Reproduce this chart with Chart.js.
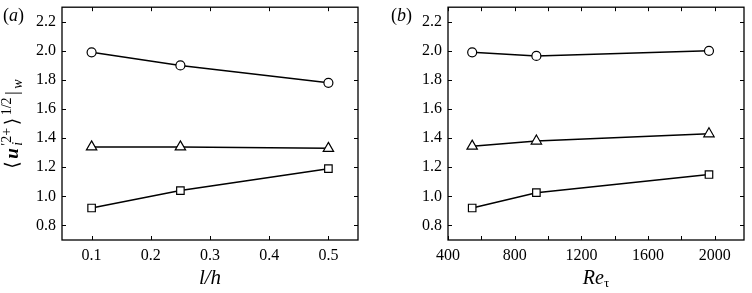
<!DOCTYPE html>
<html lang="en">
  <head>
    <meta charset="utf-8" />
    <title>Wall rms vs l/h and Re_tau</title>
    <style>
      * {
        margin: 0;
        padding: 0;
      }
      body {
        background: white;
        width: 752px;
        height: 293px;
        position: relative;
        overflow: hidden;
      }
      canvas {
        position: absolute;
        top: 0;
      }
      #chartA {
        left: 0;
      }
      #chartB {
        left: 376px;
      }
    </style>
  </head>
  <body>
    <canvas id="chartA" width="376" height="293"></canvas>
    <canvas id="chartB" width="376" height="293"></canvas>

    <script src="https://cdn.jsdelivr.net/npm/chart.js@4.4.1/dist/chart.umd.min.js"></script>

    <script>
      // panel (a): l/h
      const lh = [0.1, 0.25, 0.5];
      const aCircle = [1.99, 1.9, 1.78];
      const aTriangle = [1.34, 1.34, 1.33];
      const aSquare = [0.92, 1.04, 1.19];
      const lhTicks = [0.1, 0.2, 0.3, 0.4, 0.5];

      // panel (b): Re_tau
      const reTau = [545, 930, 1965];
      const bCircle = [1.99, 1.965, 2.0];
      const bTriangle = [1.345, 1.38, 1.43];
      const bSquare = [0.92, 1.025, 1.15];
      const reTicks = [400, 600, 800, 1000, 1200, 1400, 1600, 1800, 2000];
      const reLabels = [400, 800, 1200, 1600, 2000];

      const yTicks = [0.8, 1.0, 1.2, 1.4, 1.6, 1.8, 2.0, 2.2];

      const SERIF = "'Liberation Serif', 'DejaVu Serif', serif";

      function series(xs, ys, style, radius) {
        return {
          data: xs.map((x, i) => ({ x: x, y: ys[i] })),
          borderColor: "#000",
          borderWidth: 1.5,
          pointStyle: style,
          pointRadius: radius,
          pointHoverRadius: radius,
          pointBackgroundColor: "#fff",
          pointBorderColor: "#000",
          pointBorderWidth: 1.2,
          tension: 0,
        };
      }

      // draws text pieces (sub/superscripts) centred on (cx, cy)
      function drawRuns(ctx, runs, cx, cy, angle, align, gap) {
        gap = gap || 0;
        ctx.save();
        ctx.translate(cx, cy);
        ctx.rotate(angle || 0);
        ctx.fillStyle = "#000";
        ctx.textBaseline = "alphabetic";
        ctx.textAlign = "left";
        let total = 0;
        let last = 0;
        runs.forEach((r, i) => {
          ctx.font = r.font;
          const w = ctx.measureText(r.text).width;
          if (r.stack) {
            total = total - last + Math.max(last, w);
          } else {
            total += w + (i > 0 ? gap : 0);
          }
          last = w;
        });
        let x = align === "left" ? 0 : -total / 2;
        let prevX = x;
        let prevW = 0;
        runs.forEach((r, i) => {
          ctx.font = r.font;
          const w = ctx.measureText(r.text).width;
          if (!r.stack && i > 0) x += gap;
          const px = r.stack ? prevX : x;
          ctx.fillText(r.text, px, r.dy || 0);
          if (r.stack) {
            x = prevX + Math.max(prevW, w);
          } else {
            prevX = x;
            prevW = w;
            x += w;
          }
        });
        ctx.restore();
      }

      const frame = {
        id: "frame",
        afterDraw(chart, args, opts) {
          const { ctx, chartArea: { left, right, top, bottom }, scales: { x, y } } = chart;
          const tl = 4;
          ctx.save();
          ctx.strokeStyle = "#000";
          ctx.lineWidth = 1.3;
          ctx.strokeRect(left, top, right - left, bottom - top);
          ctx.lineWidth = 1;
          ctx.beginPath();
          x.ticks.forEach((t) => {
            const px = Math.round(x.getPixelForValue(t.value)) + 0.5;
            ctx.moveTo(px, bottom);
            ctx.lineTo(px, bottom - tl);
            ctx.moveTo(px, top);
            ctx.lineTo(px, top + tl);
          });
          y.ticks.forEach((t) => {
            const py = Math.round(y.getPixelForValue(t.value)) + 0.5;
            ctx.moveTo(left, py);
            ctx.lineTo(left + tl, py);
            ctx.moveTo(right, py);
            ctx.lineTo(right - tl, py);
          });
          ctx.stroke();
          ctx.restore();

          if (opts.xTitle) {
            drawRuns(ctx, opts.xTitle, (left + right) / 2, 284, 0);
          }
          if (opts.yTitle) {
            drawRuns(ctx, opts.yTitle, 18, 124, -Math.PI / 2, "center", 2.5);
          }
          if (opts.panel) {
            drawRuns(ctx, opts.panel.runs, opts.panel.x, 21, 0, "left");
          }
        },
      };

      function makeConfig(xs, sets, xMin, xMax, xTickVals, xLabelFn, yWidth, pad, frameOpts) {
        return {
          type: "line",
          data: {
            datasets: [
              series(xs, sets[0], "circle", 4.5),
              series(xs, sets[1], "triangle", 6),
              series(xs, sets[2], "rect", 5.3),
            ],
          },
          options: {
            responsive: false,
            animation: false,
            events: [],
            layout: { padding: pad },
            plugins: {
              legend: { display: false },
              tooltip: { enabled: false },
              frame: frameOpts,
            },
            scales: {
              x: {
                type: "linear",
                min: xMin,
                max: xMax,
                grid: { display: false, drawTicks: false },
                border: { display: false },
                afterBuildTicks(scale) {
                  scale.ticks = xTickVals.map((v) => ({ value: v }));
                },
                afterFit(scale) {
                  scale.height = 53;
                  scale.paddingLeft = 0;
                  scale.paddingRight = 0;
                },
                ticks: {
                  autoSkip: false,
                  maxRotation: 0,
                  padding: 6,
                  color: "#000",
                  font: { family: SERIF, size: 16 },
                  callback: xLabelFn,
                },
              },
              y: {
                type: "linear",
                min: 0.7,
                max: 2.3,
                grid: { display: false, drawTicks: false },
                border: { display: false },
                afterBuildTicks(scale) {
                  scale.ticks = yTicks.map((v) => ({ value: v }));
                },
                afterFit(scale) {
                  scale.width = yWidth;
                  scale.paddingTop = 0;
                  scale.paddingBottom = 0;
                },
                ticks: {
                  padding: 6,
                  color: "#000",
                  font: { family: SERIF, size: 16 },
                  callback: (v) => v.toFixed(1),
                },
              },
            },
          },
          plugins: [frame],
        };
      }

      const big = "19px " + SERIF;
      const small = "14px " + SERIF;

      const yTitle = [
        { text: "\u27E8", font: big },
        { text: "u", font: "italic bold 19px " + SERIF },
        { text: "i", font: "italic " + small, dy: 4 },
        { text: "\u20322+", font: small, dy: -7, stack: true },
        { text: "\u27E9", font: big },
        { text: "1/2", font: small, dy: -7 },
        { text: "|", font: big },
        { text: "w", font: "italic " + small, dy: 4 },
      ];

      new Chart(
        document.getElementById("chartA"),
        makeConfig(
          lh,
          [aCircle, aTriangle, aSquare],
          0.05,
          0.55,
          lhTicks,
          (v) => v.toFixed(1),
          62,
          { left: 0, right: 18, top: 4.5, bottom: 0 },
          {
            xTitle: [{ text: "l/h", font: "italic 21px " + SERIF }],
            yTitle: yTitle,
            panel: {
              x: 3,
              runs: [
                { text: "(", font: "18px " + SERIF },
                { text: "a", font: "italic 18px " + SERIF },
                { text: ")", font: "18px " + SERIF },
              ],
            },
          }
        )
      );

      new Chart(
        document.getElementById("chartB"),
        makeConfig(
          reTau,
          [bCircle, bTriangle, bSquare],
          400,
          2175,
          reTicks,
          (v) => (reLabels.includes(v) ? String(v) : ""),
          72,
          { left: 0, right: 8, top: 4, bottom: 0 },
          {
            xTitle: [
              { text: "Re", font: "italic 20px " + SERIF },
              { text: "\u03C4", font: "13px " + SERIF, dy: 3 },
            ],
            panel: {
              x: 15,
              runs: [
                { text: "(", font: "18px " + SERIF },
                { text: "b", font: "italic 18px " + SERIF },
                { text: ")", font: "18px " + SERIF },
              ],
            },
          }
        )
      );
    </script>
  </body>
</html>
